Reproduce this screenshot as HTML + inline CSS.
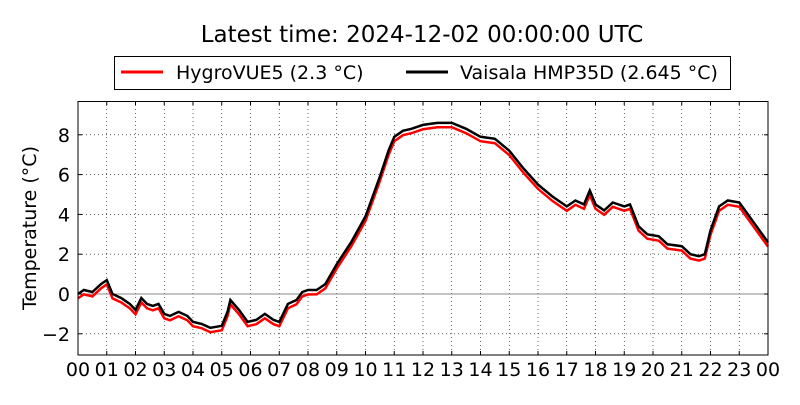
<!DOCTYPE html>
<html><head><meta charset="utf-8"><style>
body{margin:0;background:#fff;width:800px;height:400px;overflow:hidden}
svg{font-family:"DejaVu Sans","Liberation Sans",sans-serif}
</style></head><body>
<svg id="s" width="800" height="400" xmlns="http://www.w3.org/2000/svg">
<rect width="800" height="400" fill="#fff"/>
<text x="422" y="42" font-size="23" text-anchor="middle">Latest time: 2024-12-02 00:00:00 UTC</text>
<rect x="114.5" y="56.5" width="616" height="33" fill="#fff" stroke="#000"/>
<line x1="121" y1="72" x2="163" y2="72" stroke="red" stroke-width="3"/>
<text x="176" y="79" font-size="19">HygroVUE5 (2.3 °C)</text>
<line x1="406" y1="72" x2="448" y2="72" stroke="#000" stroke-width="3"/>
<text x="460" y="79" font-size="19">Vaisala HMP35D (2.645 °C)</text>
<text transform="translate(36,228) rotate(-90)" font-size="19" text-anchor="middle">Temperature (°C)</text>
<g id="g"></g>
<rect x="78" y="101.5" width="690" height="253.5" fill="none" stroke="#000"/>
</svg>
<script>
var x0=78,x1=768,pw=(x1-x0)/24;
function X(h){return x0+h*pw}
function Y(t){return 294-t*19.9}
var g=document.getElementById('g'),h='';
for(var i=0;i<=24;i++){var x=X(i);var n=i%24;
 if(i>0&&i<24)h+='<line x1="'+x+'" y1="101" x2="'+x+'" y2="355" stroke="#000" stroke-width="0.6" stroke-dasharray="1,3"/>';
 h+='<line x1="'+x+'" y1="351" x2="'+x+'" y2="355" stroke="#000"/><line x1="'+x+'" y1="101" x2="'+x+'" y2="105" stroke="#000"/>';
 h+='<text x="'+x+'" y="376" font-size="19" text-anchor="middle">'+(n<10?'0':'')+n+'</text>';}
for(var t=-2;t<=8;t+=2){var y=Y(t);
 if(t!=0)h+='<line x1="78" y1="'+y+'" x2="768" y2="'+y+'" stroke="#000" stroke-width="0.6" stroke-dasharray="1,3"/>';
 else h+='<line x1="78" y1="'+y+'" x2="768" y2="'+y+'" stroke="#888" stroke-width="1"/>';
 h+='<line x1="78" y1="'+y+'" x2="82" y2="'+y+'" stroke="#000"/><line x1="764" y1="'+y+'" x2="768" y2="'+y+'" stroke="#000"/>';
 h+='<text x="70" y="'+(y+7)+'" font-size="19" text-anchor="end">'+(t<0?'−'+(-t):t)+'</text>';}
var d=[[0,0],[0.2,0.2],[0.5,0.1],[0.8,0.5],[1.0,0.7],[1.2,0.0],[1.5,-0.2],[1.8,-0.5],[2.0,-0.8],[2.2,-0.2],[2.4,-0.5],[2.6,-0.6],[2.8,-0.5],[3.0,-1.0],[3.2,-1.1],[3.5,-0.9],[3.8,-1.1],[4.0,-1.4],[4.3,-1.5],[4.6,-1.7],[5.0,-1.6],[5.2,-0.9],[5.3,-0.3],[5.6,-0.8],[5.9,-1.4],[6.2,-1.3],[6.5,-1.0],[6.8,-1.3],[7.0,-1.4],[7.3,-0.5],[7.6,-0.3],[7.8,0.1],[8.0,0.2],[8.3,0.2],[8.6,0.5],[9.0,1.5],[9.5,2.6],[10,3.9],[10.5,5.9],[10.8,7.2],[11,7.9],[11.3,8.2],[11.6,8.3],[12,8.5],[12.5,8.6],[13,8.6],[13.5,8.3],[14,7.9],[14.5,7.8],[15,7.2],[15.5,6.3],[16,5.5],[16.5,4.9],[17,4.4],[17.3,4.7],[17.6,4.5],[17.8,5.2],[18,4.5],[18.3,4.2],[18.6,4.6],[19,4.4],[19.2,4.5],[19.5,3.4],[19.8,3.0],[20.2,2.9],[20.5,2.5],[21,2.4],[21.3,2.0],[21.6,1.9],[21.8,2.0],[22,3.2],[22.3,4.4],[22.6,4.7],[23,4.6],[23.3,4.0],[23.6,3.4],[24,2.6]];
function path(off){var p='';d.forEach(function(q,i){p+=(i?'L':'M')+X(q[0]).toFixed(1)+','+Y(q[1]+off).toFixed(1)});return p}
h+='<path d="'+path(-0.22)+'" fill="none" stroke="red" stroke-width="2.5"/>';
h+='<path d="'+path(0)+'" fill="none" stroke="#000" stroke-width="2.5"/>';
g.innerHTML=h;
</script>
</body></html>
